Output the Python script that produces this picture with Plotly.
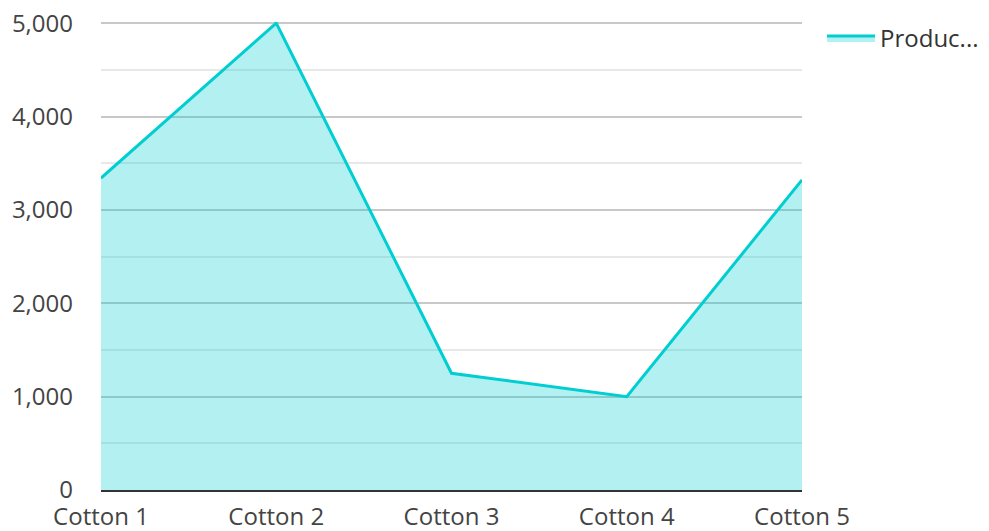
import plotly.graph_objects as go

categories = ["Cotton 1", "Cotton 2", "Cotton 3", "Cotton 4", "Cotton 5"]
production = [3340, 5000, 1250, 1000, 3320]
series_name = "Produc..."
y_tick_vals = [0, 1000, 2000, 3000, 4000, 5000]
y_tick_text = ["0", "1,000", "2,000", "3,000", "4,000", "5,000"]

fig = go.Figure()
fig.add_trace(go.Scatter(
    x=categories, y=production, name=series_name,
    mode="lines", fill="tozeroy",
    line=dict(color="#00CED1", width=3),
    fillcolor="rgba(0,206,209,0.3)",
))

font = dict(family="Open Sans", size=24, color="#444444")
# page body has an 8px default margin, so the figure is sized to fit the window
fig.update_layout(
    width=981, height=523,
    margin=dict(l=93, r=187, t=14, b=41),
    paper_bgcolor="white", plot_bgcolor="white",
    font=font,
    showlegend=True,
    legend=dict(xref="container", yref="container",
                x=0.8298, y=0.9847, xanchor="left", yanchor="top",
                font=dict(family="Open Sans", size=24, color="#333333"),
                itemwidth=48),
    xaxis=dict(type="category", range=[0, 4], showgrid=False,
               showline=True, linecolor="#333333", linewidth=2,
               ticks="", tickfont=font, zeroline=False, ticklabelstandoff=4,
               automargin=False),
    yaxis=dict(range=[0, 5012], tickvals=y_tick_vals, ticktext=y_tick_text,
               showgrid=True, gridcolor="#c8c8c8", gridwidth=1.5,
               zeroline=False, showline=False, ticks="",
               tickfont=font, ticklabelstandoff=27, automargin=False,
               ticklabeloverflow="allow",
               minor=dict(dtick=500, showgrid=True, gridcolor="#e8e8e8", gridwidth=1.5)),
)

fig.write_html("out.html")
